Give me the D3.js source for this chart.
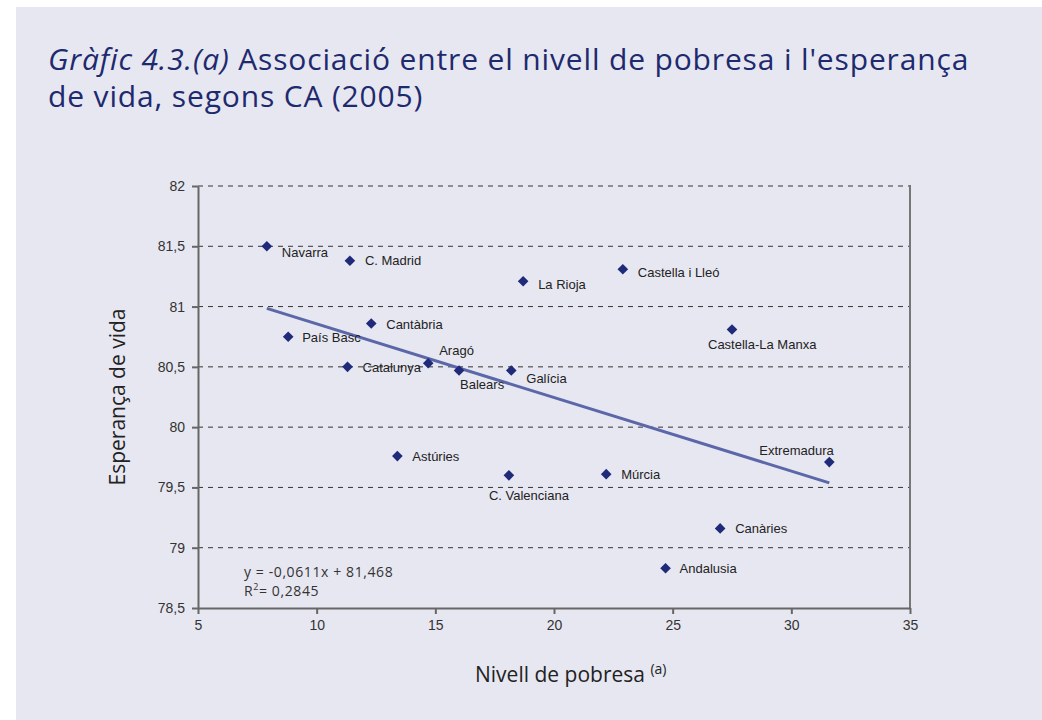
<!DOCTYPE html>
<html>
<head>
<meta charset="utf-8">
<script src="https://cdn.jsdelivr.net/npm/d3@7"></script>
<style>
  html, body { margin: 0; padding: 0; background: #fff; }
  #chart { width: 1042px; height: 720px; }
</style>
</head>
<body>
<div id="chart"></div>
<script>
const regions = ["Navarra", "C. Madrid", "La Rioja", "Castella i Lleó", "Cantàbria", "País Basc",
    "Castella-La Manxa", "Catalunya", "Aragó", "Balears", "Galícia", "Astúries",
    "C. Valenciana", "Múrcia", "Extremadura", "Canàries", "Andalusia"];
const poverty = [7.9, 11.4, 18.7, 22.9, 12.3, 8.8, 27.5, 11.3, 14.7, 16.0, 18.2, 13.4, 18.1, 22.2, 31.6, 27.0, 24.7];
const lifeExp = [81.5, 81.38, 81.21, 81.31, 80.86, 80.75, 80.81, 80.5, 80.53, 80.47, 80.47, 79.76, 79.6, 79.61, 79.71, 79.16, 78.83];
const xTicks = [5, 10, 15, 20, 25, 30, 35];
const yTicks = [78.5, 79, 79.5, 80, 80.5, 81, 81.5, 82];
const trendCoef = [-0.0611, 81.468]; // slope, intercept
const rSquared = "0,2845";

// label placement relative to each point [dx, dy]
const labelPos = {
    "Navarra": [15, 11], "C. Madrid": [15, 4], "La Rioja": [15, 8], "Castella i Lleó": [15, 8],
    "Cantàbria": [15, 6], "País Basc": [14, 5], "Castella-La Manxa": [-24, 20], "Catalunya": [15, 5],
    "Aragó": [11, -8], "Balears": [1, 19], "Galícia": [15, 13], "Astúries": [15, 5],
    "C. Valenciana": [-20, 25], "Múrcia": [15, 5], "Extremadura": [-70, -7], "Canàries": [15, 5],
    "Andalusia": [14, 5]
};

const width = 1042, height = 720;
const margin = { top: 186, right: 132, bottom: 112, left: 198 };
const fmt = v => String(v).replace(".", ",");
const titleFont = "'Open Sans', 'Noto Sans', sans-serif";
const labelFont = "'Liberation Sans', Arial, sans-serif";

const svg = d3.select("#chart").append("svg")
    .attr("width", width)
    .attr("height", height);

svg.append("rect")
    .attr("x", 16).attr("y", 7)
    .attr("width", width - 16).attr("height", height - 7)
    .attr("fill", "#e7e7f1");

// title
const title = svg.append("text")
    .attr("font-family", titleFont)
    .attr("font-size", 30)
    .attr("letter-spacing", 0.85)
    .attr("fill", "#1e2a6e");
const t1 = title.append("tspan").attr("x", 48).attr("y", 70);
t1.append("tspan").attr("font-style", "italic").text("Gràfic 4.3.(a)");
t1.append("tspan").text(" Associació entre el nivell de pobresa i l'esperança");
title.append("tspan").attr("x", 48).attr("y", 107).text("de vida, segons CA (2005)");

const x = d3.scaleLinear()
    .domain([5, 35])
    .range([margin.left, width - margin.right]);

const y = d3.scaleLinear()
    .domain([78.5, 82])
    .range([height - margin.bottom, margin.top]);

// grid
svg.append("g")
    .selectAll("line")
    .data(yTicks.slice(1))
    .join("line")
    .attr("x1", x(5)).attr("x2", x(35))
    .attr("y1", d => y(d)).attr("y2", d => y(d))
    .attr("stroke", "#333")
    .attr("stroke-width", 1)
    .attr("stroke-dasharray", "5,5");

// right frame line
svg.append("line")
    .attr("x1", x(35)).attr("x2", x(35))
    .attr("y1", y(82) - 1).attr("y2", y(78.5))
    .attr("stroke", "#777")
    .attr("stroke-width", 2);

let yAxis = g => g
    .attr("transform", `translate(${margin.left},0)`)
    .call(d3.axisLeft(y).tickValues(yTicks).tickFormat(fmt).tickSize(6).tickSizeOuter(0))
    .call(g => g.selectAll(".domain, .tick line").attr("stroke", "#666").attr("stroke-width", 2))
    .call(g => g.selectAll("text").attr("fill", "#333").attr("dx", "-4"))
    .attr("font-family", labelFont)
    .attr("font-size", 14);

let xAxis = g => g
    .attr("transform", `translate(0,${height - margin.bottom})`)
    .call(d3.axisBottom(x).tickValues(xTicks).tickFormat(fmt).tickSize(6).tickSizeOuter(0))
    .call(g => g.selectAll(".domain, .tick line").attr("stroke", "#666").attr("stroke-width", 2))
    .call(g => g.selectAll("text").attr("fill", "#333").attr("dy", "0.9em"))
    .attr("font-family", labelFont)
    .attr("font-size", 14);

svg.append("g").call(yAxis);
svg.append("g").call(xAxis);

// trend line across the data range
const xMin = d3.min(poverty), xMax = d3.max(poverty);
svg.append("line")
    .attr("x1", x(xMin)).attr("y1", y(trendCoef[0] * xMin + trendCoef[1]))
    .attr("x2", x(xMax)).attr("y2", y(trendCoef[0] * xMax + trendCoef[1]))
    .attr("stroke", "#5b67a8")
    .attr("stroke-width", 3);

const data = regions.map((name, i) => ({ name, x: poverty[i], y: lifeExp[i] }));

// points
svg.append("g")
    .attr("fill", "#1f2a78")
    .selectAll("path")
    .data(data)
    .join("path")
    .attr("transform", d => `translate(${x(d.x)},${y(d.y)})`)
    .attr("d", d3.symbol(d3.symbolDiamond2, 72));

// labels
svg.append("g")
    .attr("font-family", labelFont)
    .attr("font-size", 13)
    .attr("fill", "#222")
    .selectAll("text")
    .data(data)
    .join("text")
    .attr("x", d => x(d.x) + labelPos[d.name][0])
    .attr("y", d => y(d.y) + labelPos[d.name][1])
    .text(d => d.name);

// equation
const eq = svg.append("g")
    .attr("font-family", titleFont)
    .attr("font-size", 14)
    .attr("letter-spacing", 0.6)
    .attr("fill", "#333");
eq.append("text").attr("x", 244).attr("y", 577)
    .text(`y = -${fmt(-trendCoef[0])}x + ${fmt(trendCoef[1])}`);
const r2 = eq.append("text").attr("x", 244).attr("y", 596);
r2.append("tspan").text("R");
r2.append("tspan").attr("font-size", 9).attr("dy", -6).text("2");
r2.append("tspan").attr("dy", 6).text("= " + rSquared);

// axis titles
svg.append("text")
    .attr("transform", `translate(125,${(y(82) + y(78.5)) / 2}) rotate(-90)`)
    .attr("text-anchor", "middle")
    .attr("font-family", titleFont)
    .attr("font-size", 21)
    .attr("fill", "#222")
    .text("Esperança de vida");

const xt = svg.append("text")
    .attr("x", 475).attr("y", 682)
    .attr("font-family", titleFont)
    .attr("font-size", 21)
    .attr("fill", "#222");
xt.append("tspan").text("Nivell de pobresa ");
xt.append("tspan").attr("font-size", 14).attr("dy", -8).text("(a)");
</script>
</body>
</html>
